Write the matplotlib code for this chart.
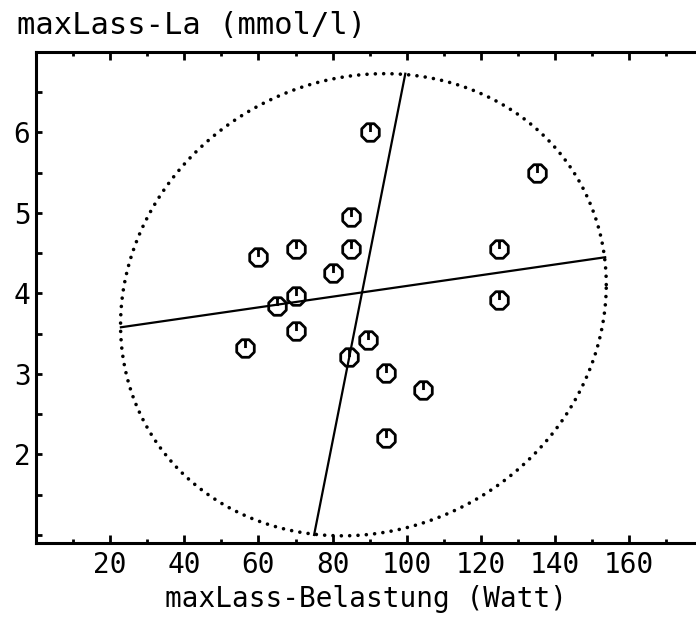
import numpy as np
import matplotlib.pyplot as plt
from matplotlib.path import Path

# Messpunkte (Watt, mmol/l)
belastung = [90, 135, 85, 70, 85, 60, 125, 80, 70, 65, 125, 70, 56.5, 89.5, 84.5, 94.5, 104.5, 94.5]
laktat = [6.0, 5.5, 4.95, 4.55, 4.55, 4.45, 4.55, 4.25, 3.97, 3.85, 3.92, 3.53, 3.32, 3.42, 3.21, 3.01, 2.8, 2.21]

# Regressionsgeraden (Endpunkte)
gerade1_x = [22.9, 153.5]
gerade1_y = [3.58, 4.45]
gerade2_x = [75.0, 99.6]
gerade2_y = [1.0, 6.73]

# Ellipse (Mittelpunkt, Halbachsen, Scherung)
ell_mitte = (88.3, 3.86)
ell_a = 65.5
ell_b = 2.86
ell_c = 0.25

x_ticks = [20, 40, 60, 80, 100, 120, 140, 160]
y_ticks = [2, 3, 4, 5, 6]

plt.rcParams['font.family'] = 'DejaVu Sans Mono'

fig = plt.figure(figsize=(6.96, 6.23), dpi=100)
ax = fig.add_axes([36 / 696, 1 - 543 / 623, 1 - 36 / 696, (543 - 52) / 623])

t = np.linspace(0, 2 * np.pi, 400)
ex = ell_mitte[0] + ell_a * np.cos(t)
ey = ell_mitte[1] + ell_b * np.sin(t) + ell_c * np.cos(t)
ax.plot(ex, ey, color='black', lw=2.6, ls=(0, (0.01, 2.3)), dash_capstyle='round')

ax.plot(gerade1_x, gerade1_y, color='black', lw=1.6)
ax.plot(gerade2_x, gerade2_y, color='black', lw=1.6)

# Symbol: Achteck mit Strich von oben
achteck = Path.unit_regular_polygon(8)
achteck = Path(achteck.vertices @ np.array([[np.cos(np.pi / 8), np.sin(np.pi / 8)],
                                            [-np.sin(np.pi / 8), np.cos(np.pi / 8)]]),
               achteck.codes)
strich = Path([[0, 0.95], [0, 0.05]], [Path.MOVETO, Path.LINETO])
symbol = Path.make_compound_path(achteck, strich)
ax.plot(belastung, laktat, ls='none', marker=symbol, markersize=13,
        mfc='none', mec='black', mew=2.0)

ax.set_xlim(0, 178)
ax.set_ylim(0.9, 7.0)

ax.set_xticks(x_ticks)
ax.set_xticks(np.arange(10, 178, 20), minor=True)
ax.set_yticks(y_ticks)
ax.set_yticks(np.arange(1, 7, 0.5), minor=True)
ax.tick_params(axis='x', which='both', direction='in', top=True, labelsize=20, pad=6)
ax.tick_params(axis='x', which='major', length=6, width=2)
ax.tick_params(axis='x', which='minor', length=3, width=2)
ax.tick_params(axis='y', which='both', direction='in', length=4, width=2, labelsize=20, pad=4)

for s in ['left', 'bottom', 'top']:
    ax.spines[s].set_linewidth(2.2)
ax.spines['right'].set_visible(False)

ax.set_xlabel('maxLass-Belastung (Watt)', fontsize=20, labelpad=4)
fig.text(17 / 696, 1 - 25 / 623, 'maxLass-La (mmol/l)', fontsize=22, va='center', ha='left')

fig.savefig('out.png', dpi=100)
